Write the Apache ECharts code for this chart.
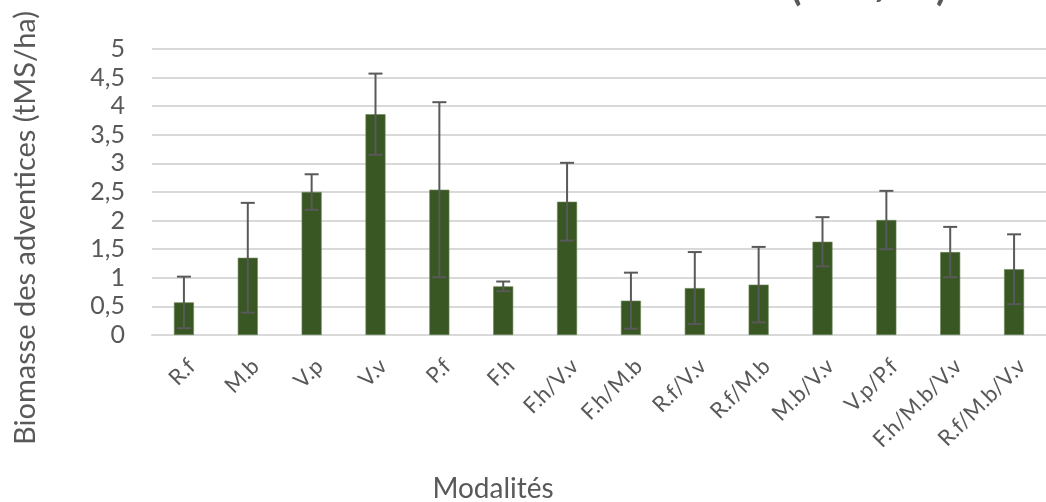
<!DOCTYPE html>
<html>
<head>
<meta charset="utf-8">
<script src="https://cdn.jsdelivr.net/npm/echarts@6/dist/echarts.min.js"></script>
<style>html,body{margin:0;padding:0;background:#fff}#c{width:1046px;height:502px}</style>
</head>
<body>
<div id="c"></div>
<script>
const categories = ['R.f','M.b','V.p','V.v','P.f','F.h','F.h/V.v','F.h/M.b','R.f/V.v','R.f/M.b','M.b/V.v','V.p/P.f','F.h/M.b/V.v','R.f/M.b/V.v'];
const means = [0.57, 1.35, 2.50, 3.86, 2.54, 0.85, 2.33, 0.60, 0.82, 0.88, 1.63, 2.01, 1.45, 1.15];
const errors = [0.45, 0.96, 0.31, 0.71, 1.53, 0.085, 0.68, 0.49, 0.63, 0.66, 0.43, 0.51, 0.44, 0.61];
const yTicks = [0, 0.5, 1, 1.5, 2, 2.5, 3, 3.5, 4, 4.5, 5];

const FONT = 'Lato';
const chart = echarts.init(document.getElementById('c'), null, {renderer: 'canvas'});
const errData = means.map((m, i) => [i, m - errors[i], m + errors[i]]);

chart.setOption({
  animation: false,
  backgroundColor: '#ffffff',
  grid: {left: 152, right: 0, top: 49, bottom: 167, containLabel: false},
  xAxis: {
    type: 'category',
    data: categories,
    axisLine: {show: true, lineStyle: {color: '#d9d9d9', width: 2}},
    axisTick: {show: false},
    axisLabel: {interval: 0, rotate: 45, fontFamily: FONT, fontSize: 22, color: '#595959', margin: 20, verticalAlign: 'top'}
  },
  yAxis: {
    type: 'value',
    min: yTicks[0], max: yTicks[yTicks.length - 1], interval: 0.5,
    axisLine: {show: false}, axisTick: {show: false},
    splitLine: {lineStyle: {color: '#d9d9d9', width: 2}},
    axisLabel: {fontFamily: FONT, fontSize: 25, color: '#595959', margin: 27,
      formatter: v => String(v).replace('.', ',')}
  },
  series: [
    {
      type: 'bar', data: means, barWidth: 20,
      itemStyle: {color: '#385723', borderColor: '#6b8559', borderWidth: 0.6}
    },
    {
      type: 'custom', data: errData, z: 10,
      renderItem: function (params, api) {
        const x = api.value(0);
        const lo = api.coord([x, api.value(1)]);
        const hi = api.coord([x, api.value(2)]);
        const hw = 7;
        const st = {stroke: '#595959', lineWidth: 2};
        return {type: 'group', children: [
          {type: 'line', shape: {x1: lo[0], y1: lo[1], x2: hi[0], y2: hi[1]}, style: st},
          {type: 'line', shape: {x1: lo[0] - hw, y1: lo[1], x2: lo[0] + hw, y2: lo[1]}, style: st},
          {type: 'line', shape: {x1: hi[0] - hw, y1: hi[1], x2: hi[0] + hw, y2: hi[1]}, style: st}
        ]};
      }
    }
  ],
  graphic: [
    {type: 'text', x: 947, y: 7, style: {text: 'Biomasse des adventices (tMS/ha)', fontFamily: FONT, fontWeight: 'bold', fontSize: 40, fill: '#595959', align: 'right', verticalAlign: 'bottom'}},
    {type: 'text', x: 26, y: 228, rotation: Math.PI / 2, style: {text: 'Biomasse des adventices (tMS/ha)', fontFamily: FONT, fontSize: 29, fill: '#595959', align: 'center', verticalAlign: 'middle'}},
    {type: 'text', x: 493, y: 489, style: {text: 'Modalités', fontFamily: FONT, fontSize: 28, fill: '#595959', align: 'center', verticalAlign: 'middle'}}
  ]
});
</script>
</body>
</html>
